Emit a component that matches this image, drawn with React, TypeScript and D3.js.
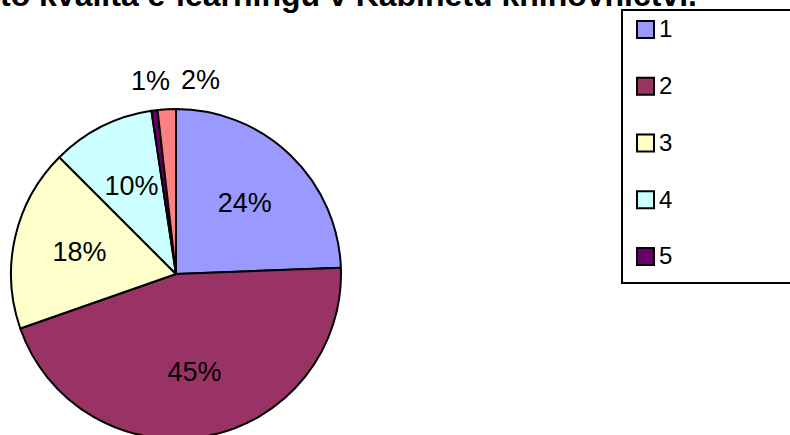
import React from 'react';
import * as d3 from 'd3';

// answer counts (percent labels are rounded)
const categories = ['1', '2', '3', '4', '5', '6'];
const counts = [41, 76, 30, 17, 1, 3];
const colors = ['#9999FF', '#993366', '#FFFFCC', '#CCFFFF', '#660066', '#FF8080'];
const legendItems = ['1', '2', '3', '4', '5'];
const title = 'to kvalita e-learningu v Kabinetu knihovnictví.';

const W = 790;
const H = 435;
const FONT = 'Arial, "Liberation Sans", sans-serif';

export default function App() {
  const cx = 176;
  const cy = 274;
  const r = 165;

  const total = d3.sum(counts);
  const pie = d3.pie<number>().sort(null).value((d) => d);
  const arcs = pie(counts);
  const arcGen = d3.arc<d3.PieArcDatum<number>>().innerRadius(0).outerRadius(r);
  const labelArc = d3.arc<d3.PieArcDatum<number>>().innerRadius(r * 0.6).outerRadius(r * 0.6);
  const outerArc = d3.arc<d3.PieArcDatum<number>>().innerRadius(r + 30).outerRadius(r + 30);

  // small slices get their label outside, pushed apart so they don't overlap
  const labels = arcs.map((a, i) => {
    const pct = d3.format('.0%')(a.value / total);
    const small = a.value / total < 0.05;
    const [x, y] = small ? outerArc.centroid(a) : labelArc.centroid(a);
    return {i, pct, small, x, y};
  });
  const outer = labels.filter((l) => l.small).sort((a, b) => a.x - b.x);
  for (let k = 1; k < outer.length; k++) {
    if (outer[k].x - outer[k - 1].x < 50) outer[k].x = outer[k - 1].x + 50;
  }

  const legendY = d3.scalePoint<string>().domain(legendItems).range([29, 256]);

  return (
    <svg width={W} height={H} style={{position: 'absolute', left: 0, top: 0, background: '#fff'}}
      fontFamily={FONT}>
      <text x={697} y={6} textAnchor="end" fontSize={32} fontWeight="bold">{title}</text>

      <g transform={`translate(${cx},${cy})`}>
        {arcs.map((a, i) => (
          <path key={categories[i]} d={arcGen(a) || ''} fill={colors[i]} stroke="#000" strokeWidth={2}
            strokeLinejoin="round" />
        ))}
        {labels.map((l) => (
          <text key={'l' + l.i} x={l.x} y={l.y} dy="0.35em" textAnchor="middle" fontSize={27}>{l.pct}</text>
        ))}
      </g>

      <g>
        <rect x={622} y={10} width={200} height={273} fill="#fff" stroke="#000" strokeWidth={2} />
        {legendItems.map((c, i) => (
          <g key={c} transform={`translate(637,${legendY(c)})`}>
            <rect x={0} y={-8} width={17} height={17} fill={colors[i]} stroke="#000" strokeWidth={2} />
            <text x={22} y={0} dy="0.35em" fontSize={24}>{c}</text>
          </g>
        ))}
      </g>
    </svg>
  );
}
